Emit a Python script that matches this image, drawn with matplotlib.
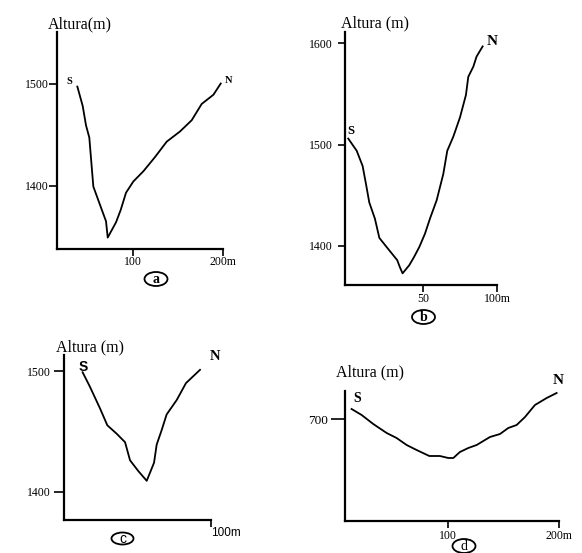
import matplotlib
matplotlib.use('agg')
import matplotlib.pyplot as plt
from matplotlib.patches import Ellipse

W, H = 582, 553

# perfil a
a_dist = [37.3, 43.3, 47.0, 50.7, 55.2, 62.7, 69.4, 71.3, 80.6, 85.8, 91.8, 100.0,
          111.2, 124.3, 137.3, 152.2, 165.3, 176.5, 189.6, 197.8]
a_alt = [1497, 1478, 1459, 1447, 1399, 1381, 1365, 1349, 1364, 1376, 1393, 1404,
         1414, 1428, 1443, 1453, 1464, 1480, 1489, 1500]

# perfil b
b_dist = [-0.7, 5.0, 9.0, 11.3, 13.5, 17.3, 20.3, 25.2, 32.4, 34.2, 36.0, 40.5, 43.7,
          47.3, 51.1, 54.5, 59.0, 63.5, 66.2, 70.3, 74.8, 78.8, 80.4, 83.8, 86.0, 90.1]
b_alt = [1506, 1494, 1479, 1461, 1443, 1427, 1408, 1399, 1386, 1379, 1373, 1381, 1389,
         1399, 1412, 1427, 1445, 1471, 1494, 1508, 1527, 1549, 1567, 1577, 1587, 1597]

# perfil c
c_dist = [12.5, 17.5, 24.4, 29.4, 35.8, 41.5, 44.9, 50.6, 56.3, 61.3, 63.1, 66.5,
          69.9, 76.8, 83.1, 92.7]
c_alt = [1499, 1487, 1469, 1455, 1448, 1441, 1426, 1417, 1409, 1424, 1439, 1451,
         1464, 1476, 1490, 1501]

# perfil d
d_dist = [14.0, 23.0, 33.4, 45.4, 54.3, 63.3, 72.2, 83.6, 93.1, 100.6, 105.1, 111.0,
          118.5, 126.0, 137.9, 146.9, 154.3, 161.8, 169.3, 178.2, 188.7, 197.6]
d_alt = [710, 704, 695, 686, 681, 674, 669, 663, 663, 661, 661, 667,
         671, 674, 682, 685, 691, 694, 702, 714, 721, 726]

plt.rcParams['font.family'] = ['Liberation Serif', 'DejaVu Serif']

fig = plt.figure(figsize=(W / 100, H / 100), dpi=100)


def ejes(izq, arriba, der, abajo, xlim, ylim):
    # ejes colocados en pixeles de la figura
    ax = fig.add_axes([izq / W, 1 - abajo / H, (der - izq) / W, (abajo - arriba) / H])
    ax.spines[['top', 'right']].set_visible(False)
    ax.spines[['left', 'bottom']].set_linewidth(1.6)
    ax.patch.set_alpha(0)
    ax.set_xlim(*xlim)
    ax.set_ylim(*ylim)
    return ax


def texto(x, y, s, **kw):
    fig.text(x / W, 1 - y / H, s, ha='center', va='center', **kw)


def circulo(x, y, letra, w=23, h=14, **kw):
    fig.add_artist(Ellipse((x / W, 1 - y / H), w / W, h / H, transform=fig.transFigure,
                           fill=False, lw=1.3, color='black'))
    texto(x, y + 0.5, letra, fontsize=10, **kw)


# ---- a ----
ax = ejes(56.7, 32, 222.7, 249, (14.2, 200), (1337.8, 1550.5))
ax.plot(a_dist, a_alt, color='black', lw=1.3, clip_on=False)
ax.set_xticks([100, 200], ['100', '200m'])
ax.set_yticks([1400, 1500])
ax.tick_params(axis='x', length=5, width=1.2, pad=0, labelsize=8.5)
ax.tick_params(axis='y', length=5.5, width=1.2, pad=0, labelsize=8.5)
texto(80, 24, 'Altura(m)', fontsize=11.5)
texto(69.5, 81.5, 'S', fontsize=7.5, fontweight='bold')
texto(228.5, 80.5, 'N', fontsize=7.5, fontweight='bold')
circulo(156, 279, 'a', fontweight='bold')

# ---- b ----
ax = ejes(345, 31.7, 497.3, 285, (-2.9, 100), (1361.5, 1611.5))
ax.plot(b_dist, b_alt, color='black', lw=1.3, clip_on=False)
ax.set_xticks([50, 100], ['50', '100m'])
ax.set_yticks([1400, 1500, 1600])
ax.tick_params(axis='x', length=5, width=1.2, pad=0.5, labelsize=8.5)
ax.tick_params(axis='y', length=5, width=1.2, pad=4, labelsize=8.5)
texto(375, 23, 'Altura (m)', fontsize=11.5)
texto(350.5, 130.5, 'S', fontsize=9, fontweight='bold')
texto(492.5, 41.5, 'N', fontsize=11, fontweight='bold')
circulo(423.5, 317, 'b', fontweight='bold')

# ---- c ----
ax = ejes(64.3, 355, 210.7, 520, (0, 100), (1376.5, 1513.3))
ax.plot(c_dist, c_alt, color='black', lw=1.3, clip_on=False)
ax.set_xticks([100], ['100m'])
ax.set_yticks([1400, 1500])
ax.tick_params(axis='x', length=5, width=1.2, pad=0, labelsize=8.5)
ax.tick_params(axis='y', length=7, width=1.2, pad=3, labelsize=8.5)
for t in ax.get_xticklabels():
    t.set_fontfamily('Liberation Sans')
    t.set_ha('left')
    t.set_x(98)
texto(90, 347, 'Altura (m)', fontsize=11.5)
texto(83, 367, 'S', fontsize=10, fontweight='bold', family='Liberation Sans')
texto(215, 357, 'N', fontsize=10.5, fontweight='bold')
circulo(122.5, 538.5, 'c', w=22, h=12, family='Liberation Sans')

# ---- d ----
ax = ejes(345, 390.7, 559.3, 520.7, (8.1, 200), (598.3, 728.3))
ax.plot(d_dist, d_alt, color='black', lw=1.3, clip_on=False)
ax.set_xticks([100, 200], ['100', '200m'])
ax.set_yticks([700])
ax.tick_params(axis='x', length=5, width=1.2, pad=1.5, labelsize=8.5)
ax.tick_params(axis='y', length=10, width=1.2, pad=2, labelsize=9.5)
texto(370, 372, 'Altura (m)', fontsize=11.5)
texto(357, 398.5, 'S', fontsize=10, fontweight='bold')
texto(558.5, 381, 'N', fontsize=11, fontweight='bold')
circulo(464, 546, 'd')

fig.savefig('out.png', dpi=100)
